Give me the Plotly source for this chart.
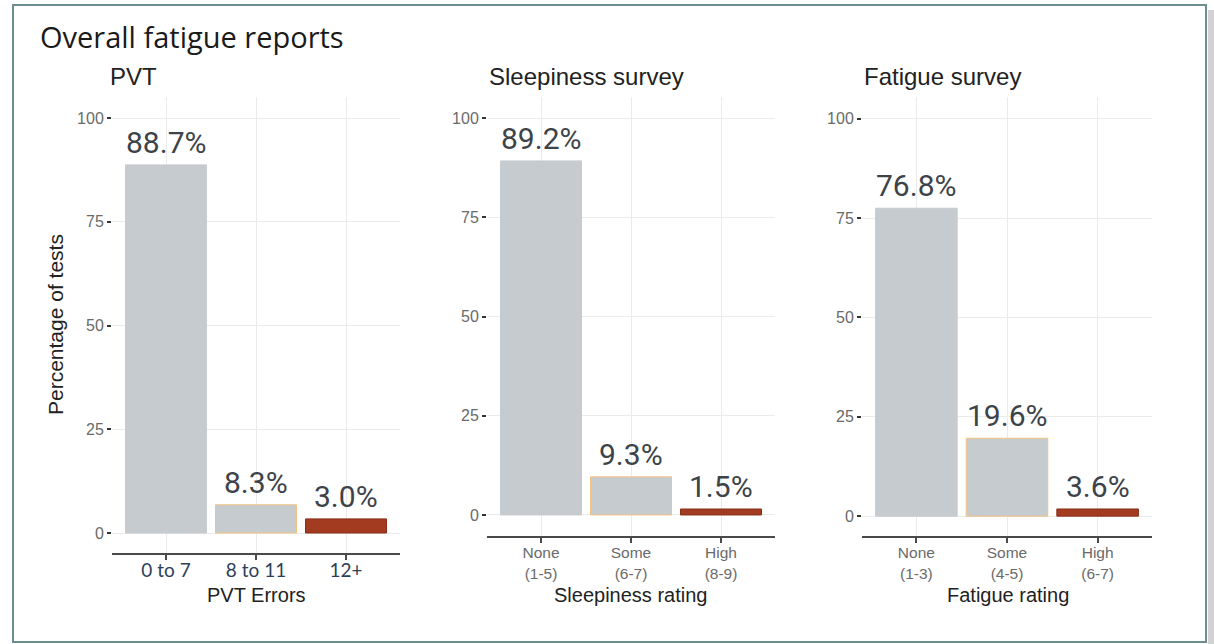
import plotly.graph_objects as go

W, H = 1214, 644

# ---- data ----
pvt_cats = ["0 to 7", "8 to 11", "12+"]
pvt_vals = [88.7, 6.8, 3.4]
pvt_labels = ["88.7%", "8.3%", "3.0%"]

sleep_cats = ["None<br>(1-5)", "Some<br>(6-7)", "High<br>(8-9)"]
sleep_vals = [89.2, 9.6, 1.5]
sleep_labels = ["89.2%", "9.3%", "1.5%"]

fat_cats = ["None<br>(1-3)", "Some<br>(4-5)", "High<br>(6-7)"]
fat_vals = [77.5, 19.6, 1.8]
fat_labels = ["76.8%", "19.6%", "3.6%"]

y_ticks = [0, 25, 50, 75, 100]

GREY = "#c6cbd0"
RED = "#a33b20"
fill_colors = [GREY, GREY, RED]
line_colors = [GREY, "#f3c27f", "#8a2e18"]


def fx(p):
    return p / W


def fy(p):
    return 1 - p / H


fig = go.Figure()

panels = [
    ("x", "y", pvt_cats, pvt_vals, pvt_labels),
    ("x2", "y2", sleep_cats, sleep_vals, sleep_labels),
    ("x3", "y3", fat_cats, fat_vals, fat_labels),
]

for xa, ya, cats, vals, labs in panels:
    fig.add_trace(go.Bar(
        x=cats, y=vals, xaxis=xa, yaxis=ya, width=0.9,
        marker=dict(color=fill_colors, line=dict(color=line_colors, width=1)),
        showlegend=False, hoverinfo="skip",
    ))
    for c, v, t in zip(cats, vals, labs):
        fig.add_annotation(
            x=c, y=v, xref=xa, yref=ya, text=t, showarrow=False,
            yanchor="bottom", yshift=3,
            font=dict(family="Roboto", size=30, color="#3d4349"),
        )

grid = "#ebebeb"
ytick_font = dict(family="Liberation Sans", size=16, color="#6a6a6a")
common_y = dict(tickmode="array", tickvals=y_ticks, showgrid=True, gridcolor=grid,
                gridwidth=1, zeroline=False, showline=False, ticks="outside",
                ticklen=4, tickwidth=1.5, tickcolor="#333", tickfont=ytick_font,
                fixedrange=True)
common_x = dict(range=[-0.6, 2.6], showgrid=True, gridcolor=grid, gridwidth=1,
                showline=True, linecolor="#4a4a4a", linewidth=1.5, ticks="outside",
                ticklen=5, tickwidth=1.5, tickcolor="#4a4a4a", zeroline=False,
                fixedrange=True)

fig.update_layout(
    width=W, height=H,
    margin=dict(l=0, r=0, t=0, b=0),
    paper_bgcolor="white", plot_bgcolor="white",
    bargap=0.1,
    xaxis=dict(domain=[fx(112), fx(400)], anchor="y", ticklabelstandoff=-6,
               tickfont=dict(family="Lato", size=19, color="#2d3f58"), **common_x),
    yaxis=dict(domain=[fy(553), fy(97)], anchor="x", range=[-4.82, 105.06], **common_y),
    xaxis2=dict(domain=[fx(487), fx(775)], anchor="y2", ticklabelstandoff=-3,
                tickfont=dict(family="Liberation Sans", size=15.5, color="#6a6a6a"), **common_x),
    yaxis2=dict(domain=[fy(536), fy(97)], anchor="x2", range=[-5.3, 105.3], **common_y),
    xaxis3=dict(domain=[fx(862), fx(1152)], anchor="y3", ticklabelstandoff=-3,
                tickfont=dict(family="Liberation Sans", size=15.5, color="#6a6a6a"), **common_x),
    yaxis3=dict(domain=[fy(536), fy(97)], anchor="x3", range=[-5.0, 105.5], **common_y),
)

# titles and axis titles
texts = [
    ("Overall fatigue reports", 38, 37, "left", 0, dict(family="Open Sans", size=29, color="#1a1a1a")),
    ("PVT", 108, 76, "left", 0, dict(family="Liberation Sans", size=24, color="#222222")),
    ("Sleepiness survey", 487, 76, "left", 0, dict(family="Liberation Sans", size=24, color="#222222")),
    ("Fatigue survey", 862, 76, "left", 0, dict(family="Liberation Sans", size=24, color="#222222")),
    ("PVT Errors", 256, 595, "center", 0, dict(family="Liberation Sans", size=20, color="#222222")),
    ("Sleepiness rating", 630, 595, "center", 0, dict(family="Liberation Sans", size=20, color="#222222")),
    ("Fatigue rating", 1008, 595, "center", 0, dict(family="Liberation Sans", size=20, color="#222222")),
    ("Percentage of tests", 55, 325, "center", -90, dict(family="Liberation Sans", size=21, color="#222222")),
]
for t, x, y, xa, ang, f in texts:
    fig.add_annotation(text=t, x=fx(x), y=fy(y), xref="paper", yref="paper",
                       xanchor=xa, yanchor="middle", showarrow=False,
                       textangle=ang, font=f)

# frame and shadow
fig.add_shape(type="rect", xref="paper", yref="paper",
              x0=fx(1208), x1=1, y0=0, y1=fy(10),
              fillcolor="#d2d2d2", line=dict(width=0), layer="below")
fig.add_shape(type="rect", xref="paper", yref="paper",
              x0=fx(13), x1=fx(1206), y0=fy(642), y1=fy(5),
              line=dict(color="#6d8e8e", width=2), fillcolor="rgba(0,0,0,0)")

fig.write_html("out.html")
